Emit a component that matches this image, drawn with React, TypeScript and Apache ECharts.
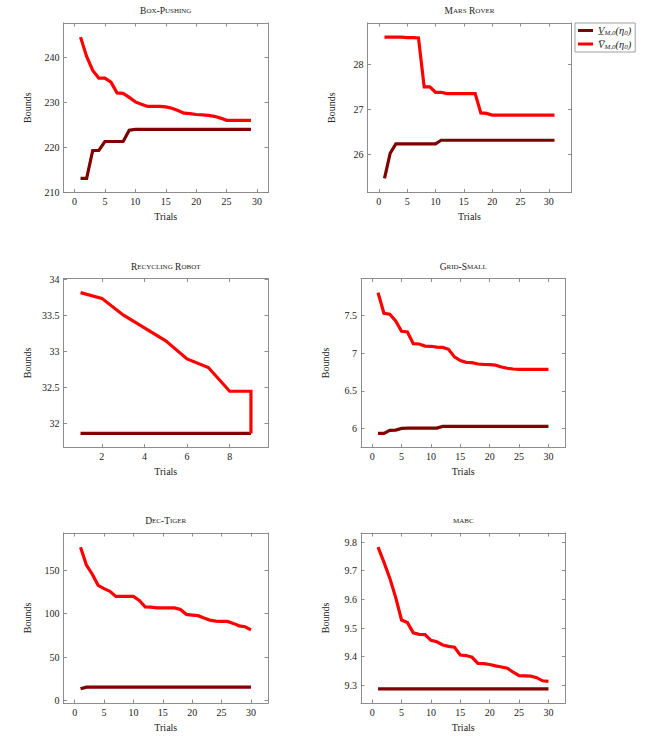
import React, { useEffect, useRef } from "react";
import * as echarts from "echarts";

// Lower (V underline) and upper (V bar) bounds per benchmark, indexed by trial 1..N
const boxPushingLower = [213.1, 213.1, 219.3, 219.3, 221.3, 221.3, 221.3, 221.3, 223.8, 224.0, 224.0, 224.0, 224.0, 224.0, 224.0, 224.0, 224.0, 224.0, 224.0, 224.0, 224.0, 224.0, 224.0, 224.0, 224.0, 224.0, 224.0, 224.0, 224.0];
const boxPushingUpper = [244.5, 240.2, 237.1, 235.4, 235.4, 234.5, 232.1, 232.0, 231.1, 230.1, 229.6, 229.1, 229.1, 229.1, 229.0, 228.7, 228.2, 227.6, 227.5, 227.3, 227.2, 227.1, 226.9, 226.5, 226.0, 226.0, 226.0, 226.0, 226.0];

const marsRoverLower = [25.46, 26.02, 26.23, 26.23, 26.23, 26.23, 26.23, 26.23, 26.23, 26.23, 26.31, 26.31, 26.31, 26.31, 26.31, 26.31, 26.31, 26.31, 26.31, 26.31, 26.31, 26.31, 26.31, 26.31, 26.31, 26.31, 26.31, 26.31, 26.31, 26.31, 26.31];
const marsRoverUpper = [28.61, 28.61, 28.61, 28.61, 28.6, 28.6, 28.59, 27.5, 27.5, 27.38, 27.38, 27.35, 27.35, 27.35, 27.35, 27.35, 27.35, 26.92, 26.91, 26.87, 26.87, 26.87, 26.87, 26.87, 26.87, 26.87, 26.87, 26.87, 26.87, 26.87, 26.87];

const recyclingLowerTrials = [1, 2, 3, 4, 5, 6, 7, 8, 9];
const recyclingLower = [31.865, 31.865, 31.865, 31.865, 31.865, 31.865, 31.865, 31.865, 31.865];
const recyclingUpperTrials = [1, 2, 3, 4, 5, 6, 7, 8, 9, 9];
const recyclingUpper = [33.82, 33.74, 33.51, 33.33, 33.15, 32.9, 32.78, 32.45, 32.45, 31.865];

const gridSmallLower = [5.938, 5.938, 5.978, 5.982, 6.004, 6.009, 6.009, 6.009, 6.009, 6.009, 6.009, 6.03, 6.03, 6.03, 6.03, 6.03, 6.03, 6.03, 6.03, 6.03, 6.03, 6.03, 6.03, 6.03, 6.03, 6.03, 6.03, 6.03, 6.03, 6.03];
const gridSmallUpper = [7.8, 7.526, 7.513, 7.425, 7.288, 7.28, 7.124, 7.12, 7.093, 7.09, 7.08, 7.075, 7.05, 6.95, 6.9, 6.877, 6.873, 6.856, 6.85, 6.847, 6.84, 6.816, 6.8, 6.79, 6.785, 6.785, 6.785, 6.785, 6.785, 6.785];

const decTigerLower = [13.6, 15.5, 15.5, 15.5, 15.5, 15.5, 15.5, 15.5, 15.5, 15.5, 15.5, 15.5, 15.5, 15.5, 15.5, 15.5, 15.5, 15.5, 15.5, 15.5, 15.5, 15.5, 15.5, 15.5, 15.5, 15.5, 15.5, 15.5, 15.5, 15.5];
const decTigerUpper = [176.4, 155.8, 145.3, 132.6, 128.7, 125.6, 119.8, 119.8, 119.8, 119.8, 115.1, 107.8, 107.4, 106.6, 106.6, 106.6, 106.6, 104.7, 99.2, 98.4, 97.7, 95.0, 92.6, 91.5, 91.1, 91.1, 88.8, 86.0, 84.9, 81.4];

const mabcLower = [9.288, 9.288, 9.288, 9.288, 9.288, 9.288, 9.288, 9.288, 9.288, 9.288, 9.288, 9.288, 9.288, 9.288, 9.288, 9.288, 9.288, 9.288, 9.288, 9.288, 9.288, 9.288, 9.288, 9.288, 9.288, 9.288, 9.288, 9.288, 9.288, 9.288];
const mabcUpper = [9.782, 9.73, 9.674, 9.607, 9.528, 9.519, 9.483, 9.478, 9.477, 9.457, 9.452, 9.441, 9.436, 9.433, 9.406, 9.404, 9.398, 9.377, 9.376, 9.373, 9.368, 9.364, 9.36, 9.346, 9.334, 9.333, 9.332, 9.327, 9.316, 9.314];

// Tick values
const trialTicks = [0, 5, 10, 15, 20, 25, 30];
const recyclingTrialTicks = [2, 4, 6, 8];
const boxPushingBoundTicks = [210, 220, 230, 240];
const marsRoverBoundTicks = [26, 27, 28];
const recyclingBoundTicks = [32, 32.5, 33, 33.5, 34];
const gridSmallBoundTicks = [6, 6.5, 7, 7.5];
const decTigerBoundTicks = [0, 50, 100, 150];
const mabcBoundTicks = [9.3, 9.4, 9.5, 9.6, 9.7, 9.8];

const titles = ["Box-Pushing", "Mars Rover", "Recycling Robot", "Grid-Small", "Dec-Tiger", "mabc"];

const SERIF = "Liberation Serif";
const DARK = "#800000";
const RED = "#ff0000";
const FRAME = "#808080";

const withTrials = (vals: number[], trials?: number[]) =>
  vals.map((v, i) => [trials ? trials[i] : i + 1, v]);

const panels = [
  { lower: withTrials(boxPushingLower), upper: withTrials(boxPushingUpper), xTicks: trialTicks, yTicks: boxPushingBoundTicks, box: { left: 63.5, top: 23, width: 204.5, height: 169.5 } },
  { lower: withTrials(marsRoverLower), upper: withTrials(marsRoverUpper), xTicks: trialTicks, yTicks: marsRoverBoundTicks, box: { left: 367.5, top: 23, width: 204, height: 169.5 } },
  { lower: withTrials(recyclingLower, recyclingLowerTrials), upper: withTrials(recyclingUpper, recyclingUpperTrials), xTicks: recyclingTrialTicks, yTicks: recyclingBoundTicks, box: { left: 63.5, top: 278.5, width: 204.5, height: 169 } },
  { lower: withTrials(gridSmallLower), upper: withTrials(gridSmallUpper), xTicks: trialTicks, yTicks: gridSmallBoundTicks, box: { left: 361, top: 278.5, width: 204.5, height: 169 } },
  { lower: withTrials(decTigerLower), upper: withTrials(decTigerUpper), xTicks: trialTicks, yTicks: decTigerBoundTicks, box: { left: 63.5, top: 533, width: 204.5, height: 170 } },
  { lower: withTrials(mabcLower), upper: withTrials(mabcUpper), xTicks: trialTicks, yTicks: mabcBoundTicks, box: { left: 361, top: 533, width: 204.5, height: 170 } },
];

// pgfplots-style limits: data range enlarged by 10% on each side
function enlarged(points: number[][], dim: number): [number, number] {
  const vals = points.map((p) => p[dim]);
  const lo = Math.min(...vals);
  const hi = Math.max(...vals);
  const pad = (hi - lo) * 0.1;
  return [lo - pad, hi + pad];
}

// Small caps: capitals at full size, lowercase letters as smaller capitals
function smallCaps(s: string): string {
  let out = "";
  let cur = "";
  let mode = "";
  for (const ch of s) {
    const m = ch >= "a" && ch <= "z" ? "b" : "a";
    if (m !== mode && cur) {
      out += `{${mode}|${cur}}`;
      cur = "";
    }
    mode = m;
    cur += m === "b" ? ch.toUpperCase() : ch;
  }
  if (cur) out += `{${mode}|${cur}}`;
  return out;
}

export default function App() {
  const ref = useRef<HTMLDivElement>(null);

  useEffect(() => {
    if (!ref.current) return;
    const chart = echarts.init(ref.current, undefined, { renderer: "svg" });

    const grid: any[] = [];
    const xAxis: any[] = [];
    const yAxis: any[] = [];
    const series: any[] = [];
    const graphic: any[] = [];

    const lineStyle = { color: FRAME, width: 0.9 };
    const tickStyle = { color: FRAME, width: 0.9 };

    panels.forEach((p, i) => {
      grid.push({ ...p.box, containLabel: false });
      const all = [...p.lower, ...p.upper];
      const [xmin, xmax] = enlarged(all, 0);
      const [ymin, ymax] = enlarged(all, 1);

      const xBase = {
        type: "value",
        gridIndex: i,
        min: xmin,
        max: xmax,
        splitLine: { show: false },
        axisLine: { show: true, onZero: false, lineStyle },
        axisTick: { show: true, inside: true, length: 3.5, lineStyle: tickStyle, customValues: p.xTicks },
      };
      xAxis.push({
        ...xBase,
        position: "bottom",
        name: "Trials",
        nameLocation: "middle",
        nameGap: 19,
        nameTextStyle: { fontFamily: SERIF, fontSize: 10, color: "#222" },
        axisLabel: { show: true, margin: 4, fontFamily: SERIF, fontSize: 10, color: "#222", customValues: p.xTicks },
      });
      xAxis.push({ ...xBase, position: "top", axisLabel: { show: false } });

      const yBase = {
        type: "value",
        gridIndex: i,
        min: ymin,
        max: ymax,
        splitLine: { show: false },
        axisLine: { show: true, onZero: false, lineStyle },
        axisTick: { show: true, inside: true, length: 3.5, lineStyle: tickStyle, customValues: p.yTicks },
      };
      yAxis.push({
        ...yBase,
        position: "left",
        name: "Bounds",
        nameLocation: "middle",
        nameRotate: 90,
        nameGap: 31,
        nameTextStyle: { fontFamily: SERIF, fontSize: 10, color: "#222" },
        axisLabel: { show: true, margin: 4, fontFamily: SERIF, fontSize: 10, color: "#222", customValues: p.yTicks },
      });
      yAxis.push({ ...yBase, position: "right", axisLabel: { show: false } });

      series.push({
        name: "lower",
        type: "line",
        xAxisIndex: 2 * i,
        yAxisIndex: 2 * i,
        data: p.lower,
        showSymbol: false,
        symbol: "none",
        lineStyle: { color: DARK, width: 3.2, join: "miter" },
        itemStyle: { color: DARK },
      });
      series.push({
        name: "upper",
        type: "line",
        xAxisIndex: 2 * i,
        yAxisIndex: 2 * i,
        data: p.upper,
        showSymbol: false,
        symbol: "none",
        lineStyle: { color: RED, width: 3.2, join: "miter" },
        itemStyle: { color: RED },
      });

      graphic.push({
        type: "text",
        x: p.box.left + p.box.width / 2,
        y: p.box.top - 12,
        style: {
          text: smallCaps(titles[i]),
          align: "center",
          verticalAlign: "middle",
          fill: "#222",
          fontFamily: SERIF,
          rich: {
            a: { fontFamily: SERIF, fontSize: 9.5, fill: "#222", color: "#222" },
            b: { fontFamily: SERIF, fontSize: 7, fill: "#222", color: "#222" },
          },
        },
      });
    });

    const legendRich = {
      v: { fontFamily: SERIF, fontStyle: "italic", fontSize: 10.5, color: "#222", lineHeight: 12 },
      s: { fontFamily: SERIF, fontStyle: "italic", fontSize: 7, color: "#222", verticalAlign: "bottom", lineHeight: 8 },
      p: { fontFamily: SERIF, fontStyle: "italic", fontSize: 10.5, color: "#222", lineHeight: 12 },
    };

    chart.setOption({
      animation: false,
      backgroundColor: "#ffffff",
      grid,
      xAxis,
      yAxis,
      series,
      graphic,
      legend: {
        data: ["lower", "upper"],
        orient: "vertical",
        left: 575,
        top: 23,
        padding: [2, 4, 2, 3],
        itemGap: 2,
        itemWidth: 15,
        itemHeight: 3,
        icon: "rect",
        selectedMode: false,
        borderColor: "#888",
        borderWidth: 0.8,
        formatter: (name: string) =>
          name === "lower"
            ? "{v|V\u0332}{s|M,0}{p|(η}{s|0}{p|)}"
            : "{v|V\u0305}{s|M,0}{p|(η}{s|0}{p|)}",
        textStyle: { rich: legendRich },
      },
    });

    return () => chart.dispose();
  }, []);

  return (
    <div
      ref={ref}
      style={{ position: "fixed", left: 0, top: 0, width: 651, height: 740, background: "#fff" }}
    />
  );
}
